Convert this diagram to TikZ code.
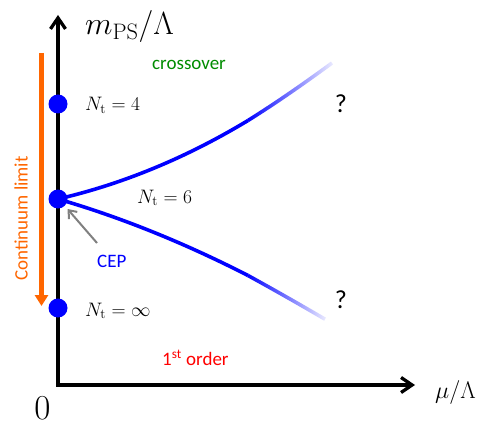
\RequirePackage{fix-cm}
\documentclass[tikz,border=0pt]{standalone}
\usepackage{fontspec}
\newfontfamily\calib{Carlito}
\usetikzlibrary{arrows.meta,fadings}
\definecolor{corange}{RGB}{255,102,0}
\definecolor{cgreen}{RGB}{0,140,0}
\definecolor{cgray}{RGB}{128,128,128}
\tikzfading[name=fadetail, left color=transparent!0, right color=transparent!93]
\begin{document}
\begin{tikzpicture}[x=1pt,y=1pt,
  dot/.style={circle, fill=blue, inner sep=0pt, minimum size=19pt},
  axisline/.style={line width=3.3pt, {Straight Barb[length=11pt,width=15pt]}-{Straight Barb[length=11pt,width=15pt]}},
  curve/.style={blue, line width=3.6pt},
  mlabel/.style={inner sep=0pt, anchor=base west, font=\fontsize{19.5}{22}\selectfont},
  slabel/.style={inner sep=0pt, font=\calib\fontsize{19}{22}\selectfont},
  qmark/.style={inner sep=0pt, anchor=base, font=\calib\fontsize{26}{30}\selectfont},
  climit/.style={corange, line width=4.5pt, -{Triangle[length=11pt,width=13pt]}},
  cepline/.style={cgray, line width=2pt, -{Straight Barb[length=7pt,width=11pt]}}
]
\useasboundingbox (0,0) rectangle (493,424);
% coordinates
\coordinate (O) at (58,39);
\coordinate (ytop) at (58,409);
\coordinate (xend) at (415,39);
\coordinate (cepc) at (58,225);
\coordinate (umid) at (248,303.5);
\coordinate (uend) at (332,361);
\coordinate (lmid) at (248,148.5);
\coordinate (lend) at (325,104.8);
\coordinate (ctop) at (41.5,371);
\coordinate (cbot) at (41.5,118);
\coordinate (gstart) at (97,181);
\coordinate (gend) at (67.5,215);
% axes
\draw[axisline] (ytop) -- (O) -- (xend);
% curves
\draw[curve] (cepc) .. controls (121.3,239.7) and (184.7,265.3) .. (umid);
\draw[curve, path fading=fadetail] (umid) .. controls (276,321) and (304,340.5) .. (uend);
\draw[curve] (cepc) .. controls (121.3,206.6) and (184.7,180.9) .. (lmid);
\draw[curve, path fading=fadetail] (lmid) .. controls (273.7,134.4) and (299.3,119.8) .. (lend);
% dots
\node[dot] (n4) at (58,320) {};
\node[dot] (cep) at (cepc) {};
\node[dot] (ninf) at (58,116) {};
% continuum limit arrow
\draw[climit] (ctop) -- (cbot);
\node[slabel, text=corange, rotate=90] (cl) at (21,205.5) {Continuum limit};
% CEP arrow
\draw[cepline] (gstart) -- (gend);
% labels
\node[mlabel] (l4) at (85,313) {$N_{\mathrm t}=4$};
\node[mlabel] (l6) at (137,221) {$N_{\mathrm t}=6$};
\node[mlabel] (linf) at (85,108) {$N_{\mathrm t}=\infty$};
\node[inner sep=0pt, anchor=base west, font=\fontsize{32}{36}\selectfont] (ylab) at (85,389) {$m_{\mathrm{PS}}/\Lambda$};
\node[inner sep=0pt, anchor=base west, font=\fontsize{24}{28}\selectfont] (xlab) at (435,26) {$\mu/\Lambda$};
\node[inner sep=0pt, font=\fontsize{35}{40}\selectfont] (zero) at (42.5,16) {$0$};
\node[slabel, anchor=base west, text=cgreen] (cross) at (152,354) {crossover};
\node[slabel, anchor=base west, text=blue] (ceplab) at (97,157) {CEP};
\node[slabel, anchor=base west, text=red] (first) at (162,59) {1\textsuperscript{st} order};
\node[qmark] (q1) at (341,311) {?};
\node[qmark] (q2) at (341,116) {?};
\end{tikzpicture}
\end{document}
